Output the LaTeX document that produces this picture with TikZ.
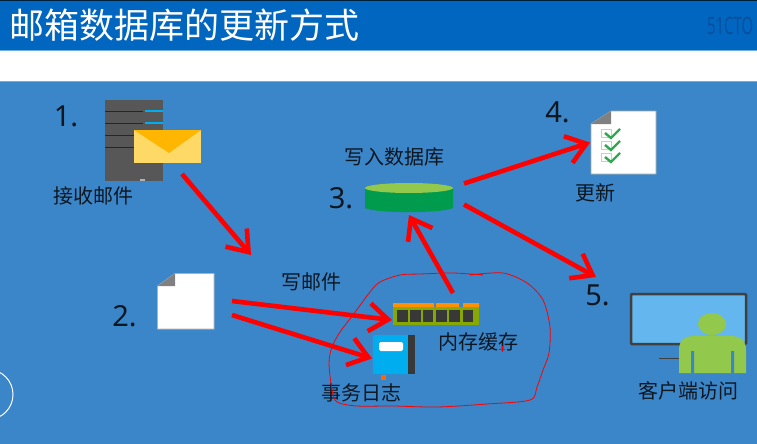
\documentclass[tikz,border=0pt]{standalone}
\usepackage{fontspec}
\usepackage{xcolor}
\usetikzlibrary{arrows.meta}
\setmainfont{Noto Sans}
\newfontfamily\cjk{Noto Sans CJK SC}
\definecolor{bandblue}{HTML}{0066BF}
\definecolor{bodyblue}{HTML}{3A86C8}
\definecolor{edgeblue}{HTML}{6DB0E0}
\definecolor{markblue}{HTML}{0A4F9C}
\definecolor{inkdark}{HTML}{0E1620}
\definecolor{srvgray}{HTML}{575757}
\definecolor{foldgray}{HTML}{808080}
\definecolor{mailpale}{HTML}{FFD966}
\definecolor{mailgold}{HTML}{FFB600}
\definecolor{tankgreen}{HTML}{009B4D}
\definecolor{leafgreen}{HTML}{92C84B}
\definecolor{chipgreen}{HTML}{86A800}
\definecolor{chipdark}{HTML}{383838}
\definecolor{ramorange}{HTML}{FF9000}
\definecolor{bookblue}{HTML}{00AEEF}
\definecolor{screenblue}{HTML}{63B7EE}
\definecolor{checkgreen}{HTML}{2FA84F}
\begin{document}
\begin{tikzpicture}[x=1pt,y=-1pt]
\tikzset{label/.style={font=\cjk\fontsize{20}{24}\selectfont,text=inkdark,inner sep=0pt}}
\tikzset{stepnum/.style={font=\fontsize{29}{32}\selectfont,text=inkdark,inner sep=0pt}}
\tikzset{iconbox/.style={inner sep=0pt,outer sep=0pt}}
\tikzset{redarrow/.style={draw=red,line width=4.6pt,-{Straight Barb[length=19pt,width=28pt,line width=4.6pt]}}}

\useasboundingbox (0,0) rectangle (757,444);

% background
\fill[bodyblue] (0,0) rectangle (757,444);
\fill[bandblue] (0,0) rectangle (757,51);
\fill[black!70!bandblue] (0,0) rectangle (757,1.5);
\fill[white] (0,51) rectangle (757,81);
\draw[edgeblue,line width=1pt] (0,51) -- (757,51) (0,81) -- (757,81);
\node[font=\cjk\fontsize{35}{40}\selectfont,text=white,inner sep=0pt,anchor=west] (title) at (9.5,25) {邮箱数据库的更新方式};
\node[font=\bfseries\fontsize{24}{28}\selectfont,text=markblue,inner sep=0pt,anchor=west,xscale=.62] (mark) at (707,26) {51CTO};
\node[circle,draw=white,line width=1pt,minimum size=50pt,inner sep=0pt] (pagebtn) at (-12,394.5) {};

% 1. server and mail
\node[iconbox,fill=srvgray,minimum width=58pt,minimum height=81pt] (server) at (134,140.5) {};
\foreach \y in {111,123,135,147} \draw[black!85,line width=1pt] (105,\y) -- (143,\y);
\foreach \y in {111,123} \draw[bookblue,line width=2pt] (145,\y) -- (163,\y);
\fill[black!30] (140,178.5) rectangle (145,181);
\node[iconbox,fill=mailpale,minimum width=67pt,minimum height=33pt] (mail) at (167.5,146.5) {};
\fill[mailgold] (134,130) -- (201,130) -- (169,153) -- cycle;
\node[stepnum] (numa) at (66,116) {1.};
\node[label] (laba) at (93.5,196) {接收邮件};

% 2. plain page
\node[iconbox,minimum width=57pt,minimum height=56pt] (page) at (185.5,301) {};
\filldraw[fill=white,draw=black!30,line width=.6pt] (175,273.5) -- (214,273.5) -- (214,329) -- (157.5,329) -- (157.5,286) -- cycle;
\fill[foldgray] (157.5,286) -- (175,286) -- (175,273.5) -- cycle;
\node[stepnum] (numb) at (124.5,316) {2.};
\node[label] (labb) at (311,282) {写邮件};

% 3. database
\node[iconbox,minimum width=88pt,minimum height=29pt] (tank) at (409,197.5) {};
\fill[tankgreen] (365,188) -- (365,208) .. controls (376,213.5) and (442,213.5) .. (453,208) -- (453,188) -- cycle;
\fill[leafgreen] (409,188) ellipse (44 and 5);
\node[stepnum] (numc) at (341,198) {3.};
\node[label] (labc) at (394.5,157) {写入数据库};

% 4. checklist
\node[iconbox,minimum width=65pt,minimum height=63pt] (list) at (623.5,142.5) {};
\filldraw[fill=white,draw=black!35,line width=.8pt] (611,111) -- (656,111) -- (656,174) -- (591,174) -- (591,124) -- cycle;
\fill[foldgray] (591,124) -- (611,124) -- (611,111) -- cycle;
\foreach \y in {129,141,153} {
  \draw[black!20,line width=.8pt] (601,\y) rectangle (611,\y+8);
  \draw[checkgreen,line width=2.4pt] (605,\y+4) -- (611,\y+9) -- (620,\y);
}
\node[stepnum] (numd) at (557.5,112) {4.};
\node[label] (labd) at (595,193) {更新};

% 5. client
\node[iconbox,fill=screenblue,draw=black!75,line width=2.5pt,rounded corners=1pt,minimum width=115pt,minimum height=50pt] (screen) at (688.5,319) {};
\draw[black!75,line width=1pt] (659,358) -- (695,358);
\node[iconbox,minimum width=67pt,minimum height=37pt] (person) at (712.5,354.5) {};
\fill[leafgreen] (679,373) -- (679,350) .. controls (679,340) and (685,336) .. (695,336) -- (730,336) .. controls (740,336) and (746,340) .. (746,350) -- (746,373) -- cycle;
\fill[leafgreen] (712,324) ellipse (14 and 11);
\fill[bodyblue] (691,351) rectangle (694,373) (731,351) rectangle (734,373);
\node[stepnum] (nume) at (597.5,295) {5.};
\node[label] (labe) at (688,391) {客户端访问};

% memory
\node[iconbox,fill=chipgreen,minimum width=86pt,minimum height=18pt] (ram) at (436,316) {};
\fill[ramorange] (393,303) rectangle (434,307) (436,303) rectangle (459,307) (463,303) rectangle (479,307);
\foreach \x in {397.3,410.2,423,436.3,449.3,462.7} \fill[chipdark] (\x,310) rectangle (\x+10.3,322);
\node[label] (labram) at (478,342) {内存缓存};

% journal
\node[iconbox,fill=bookblue,rounded corners=1pt,minimum width=42pt,minimum height=39pt] (book) at (394,354.5) {};
\fill[chipdark] (408,335) rectangle (415,374);
\fill[white,rounded corners=1.5pt] (379,342) rectangle (403,351);
\fill[orange!80!red] (381,375) rectangle (385.5,380);
\node[label] (labbook) at (361.5,393) {事务日志};

% arrows
\draw[redarrow] ([xshift=-19pt,yshift=-11pt]mail.south east) -- ([xshift=37pt,yshift=18pt]page.north east);
\draw[redarrow] ([xshift=18pt]page.east) -- ([xshift=-1pt,yshift=-4pt]ram.west);
\draw[redarrow] ([xshift=18pt,yshift=-14pt]page.east) -- ([xshift=-1pt,yshift=-4pt]book.west);
\draw[redarrow] ([xshift=17pt,yshift=14pt]ram.north) -- ([yshift=-3pt]tank.south);
\draw[redarrow] ([xshift=11pt,yshift=14pt]tank.east) -- ([xshift=-1pt]list.west);
\draw[redarrow] ([xshift=11pt,yshift=-7pt]tank.east) -- ([xshift=-35pt,yshift=17pt]screen.north west);

% hand drawn ring
\draw[red,line width=.8pt] plot[smooth] coordinates {(483,275) (453,273) (420,274) (400,275) (380,282) (370,292) (353,315) (340,332) (332,347) (329,363) (332,390) (337,402) (357,406) (393,406) (437,407) (487,404) (530,400) (537,387) (543,370) (549,353) (550,327) (543,300) (527,283) (503,273) (470,275)};
\draw[red,line width=.6pt] (499,349) -- (505,349) (502,346) -- (502,352);
\end{tikzpicture}
\end{document}
